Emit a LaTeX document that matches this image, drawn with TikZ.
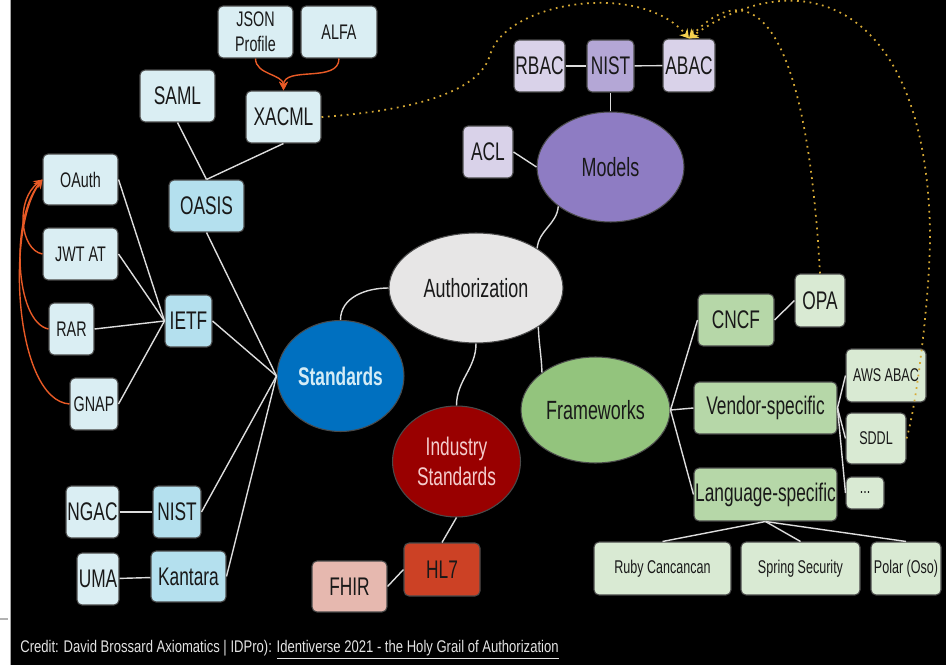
\documentclass[tikz,border=0pt]{standalone}
\usepackage{fontspec}
\setmainfont[FakeStretch=0.68]{Liberation Sans}
\newfontfamily\creditfont[FakeStretch=0.775]{Liberation Sans}
\usetikzlibrary{shapes.geometric,arrows.meta}

\definecolor{paleblue}{HTML}{DAEEF3}
\definecolor{midblue}{HTML}{B4E0EE}
\definecolor{stdblue}{HTML}{0070C0}
\definecolor{stdtext}{HTML}{D4ECF6}
\definecolor{authgrey}{HTML}{E7E6E6}
\definecolor{modpurple}{HTML}{8E7CC3}
\definecolor{midpurple}{HTML}{B4A7D6}
\definecolor{palepurple}{HTML}{D9D2E9}
\definecolor{indred}{HTML}{990000}
\definecolor{indtext}{HTML}{F4CCCC}
\definecolor{hlred}{HTML}{CC4125}
\definecolor{fhirpink}{HTML}{E6B8AF}
\definecolor{fwgreen}{HTML}{93C47D}
\definecolor{midgreen}{HTML}{B6D7A8}
\definecolor{palegreen}{HTML}{D9EAD3}
\definecolor{boxedge}{HTML}{4A4A4A}
\definecolor{wire}{HTML}{DCDCDC}
\definecolor{linkorange}{HTML}{E85A26}
\definecolor{dotgold}{HTML}{D6A935}
\definecolor{tipgold}{HTML}{F5D04E}
\definecolor{creditgrey}{HTML}{E4E4E4}

\tikzset{
  bigtxt/.style={font=\fontsize{14.5}{17}\selectfont},
  midtxt/.style={font=\fontsize{12}{14}\selectfont},
  smalltxt/.style={font=\fontsize{10.5}{12}\selectfont},
  pbox/.style={draw=boxedge, line width=0.6pt, rounded corners=0.1cm, minimum height=1.04cm, inner sep=0.5pt, text=black!90, bigtxt},
  blob/.style={draw=boxedge, line width=0.6pt, ellipse, inner sep=0pt, text=black!90, bigtxt},
  wireline/.style={draw=wire, line width=0.8pt},
  orangelink/.style={draw=linkorange, line width=0.8pt, -{Stealth[length=5pt,width=5pt]}},
  dotlink/.style={draw=dotgold, line width=1pt, dash pattern=on 1pt off 2.6pt, -{Stealth[length=5pt,width=6pt,fill=tipgold,color=tipgold]}}
}

\begin{document}
\begin{tikzpicture}[x=0.02cm,y=-0.02cm]
  % frame
  \useasboundingbox (0,0) rectangle (946,665);
  \fill[black] (10,0) rectangle (946,665);
  \fill[white] (0,0) rectangle (10,665);
  \draw[gray!70] (10,0) -- (10,665);
  \draw[gray!60, line width=1pt] (0,619) -- (8,619);

  % centre and the four branches
  \node[blob, fill=authgrey, minimum width=3.48cm, minimum height=2.2cm, font=\fontsize{15}{17}\selectfont] (auth) at (476,288) {Authorization};
  \node[blob, fill=stdblue, minimum width=2.54cm, minimum height=2.22cm, text=stdtext, font=\fontsize{14.5}{17}\selectfont\bfseries] (std) at (340.5,376) {Standards};
  \node[blob, fill=indred, minimum width=2.56cm, minimum height=2.22cm, text=indtext, align=center, font=\fontsize{14.5}{17.5}\selectfont] (ind) at (456.5,461.5) {Industry\\Standards};
  \node[blob, fill=fwgreen, minimum width=2.98cm, minimum height=2.12cm, font=\fontsize{15}{17}\selectfont] (fw) at (595.5,410) {Frameworks};
  \node[blob, fill=modpurple, minimum width=2.94cm, minimum height=2.2cm, font=\fontsize{15}{17}\selectfont] (models) at (610.5,167) {Models};

  % standards side
  \node[pbox, fill=paleblue, minimum width=1.5cm, align=center, midtxt, font=\fontsize{12}{14}\selectfont] (json) at (255.5,32) {JSON\\Profile};
  \node[pbox, fill=paleblue, minimum width=1.52cm, midtxt] (alfa) at (339,32) {ALFA};
  \node[pbox, fill=paleblue, minimum width=1.5cm] (saml) at (177.5,96) {SAML};
  \node[pbox, fill=paleblue, minimum width=1.5cm] (xacml) at (283.5,117) {XACML};
  \node[pbox, fill=midblue, minimum width=1.5cm] (oasis) at (206.5,206) {OASIS};
  \node[pbox, fill=paleblue, minimum width=1.5cm, minimum height=1.02cm, midtxt] (oauth) at (80.5,179.5) {OAuth};
  \node[pbox, fill=paleblue, minimum width=1.5cm, midtxt] (jwt) at (80.5,254) {JWT AT};
  \node[pbox, fill=midblue, minimum width=0.94cm] (ietf) at (188.5,321) {IETF};
  \node[pbox, fill=paleblue, minimum width=0.9cm, midtxt] (rar) at (71.5,329) {RAR};
  \node[pbox, fill=paleblue, minimum width=0.96cm, midtxt] (gnap) at (94,404) {GNAP};
  \node[pbox, fill=paleblue, minimum width=1.06cm] (ngac) at (92.5,512) {NGAC};
  \node[pbox, fill=midblue, minimum width=0.96cm] (nistb) at (177,512) {NIST};
  \node[pbox, fill=paleblue, minimum width=0.84cm] (uma) at (98,579) {UMA};
  \node[pbox, fill=midblue, minimum width=1.5cm, minimum height=1.02cm] (kantara) at (188.5,576.5) {Kantara};

  % industry side
  \node[pbox, fill=hlred, minimum width=1.52cm, minimum height=1.06cm] (hl7) at (442,569.5) {HL7};
  \node[pbox, fill=fhirpink, minimum width=1.5cm, minimum height=1.02cm] (fhir) at (349.5,586.5) {FHIR};

  % models side
  \node[pbox, fill=palepurple, minimum width=1.02cm] (rbac) at (539.5,66) {RBAC};
  \node[pbox, fill=midpurple, minimum width=0.94cm] (nistt) at (610.5,66) {NIST};
  \node[pbox, fill=palepurple, minimum width=1.04cm, minimum height=1.06cm] (abac) at (689,65.5) {ABAC};
  \node[pbox, fill=palepurple, minimum width=1.0cm] (acl) at (488,152) {ACL};

  % frameworks side
  \node[pbox, fill=midgreen, minimum width=1.52cm] (cncf) at (736,320) {CNCF};
  \node[pbox, fill=palegreen, minimum width=1.0cm, minimum height=1.06cm] (opa) at (820,300.5) {OPA};
  \node[pbox, fill=midgreen, minimum width=2.86cm] (vendor) at (765.5,408) {Vendor-specific};
  \node[pbox, fill=midgreen, minimum width=2.86cm, minimum height=1.06cm] (lang) at (765.5,494.5) {Language-specific};
  \node[pbox, fill=palegreen, minimum width=1.6cm, minimum height=1.06cm, smalltxt] (aws) at (886,375.5) {AWS ABAC};
  \node[pbox, fill=palegreen, minimum width=1.2cm, minimum height=1.02cm, smalltxt] (sddl) at (876,438.5) {SDDL};
  \node[pbox, fill=palegreen, minimum width=0.76cm, minimum height=0.64cm, smalltxt] (more) at (865,493) {...};
  \node[pbox, fill=palegreen, minimum width=2.74cm, minimum height=1.06cm, smalltxt] (ruby) at (662.5,568.5) {Ruby Cancancan};
  \node[pbox, fill=palegreen, minimum width=2.38cm, minimum height=1.06cm, smalltxt] (spring) at (800.5,568.5) {Spring Security};
  \node[pbox, fill=palegreen, minimum width=1.4cm, minimum height=1.06cm, smalltxt] (polar) at (906,568.5) {Polar (Oso)};

  % credit line
  \node[anchor=base west, inner sep=0pt, text=creditgrey, font=\fontsize{9.6}{11}\creditfont] (credit) at (20,652) {Credit: David Brossard Axiomatics | IDPro): \underline{Identiverse 2021 - the Holy Grail of Authorization}};

  % branches from the centre
  \draw[wireline] (std.north) to[out=90,in=180] (auth.west);
  \draw[wireline] (auth.south) to[out=-90,in=90] (ind.north);
  \draw[wireline] (auth.-32) to[out=-88,in=92] (fw.145);
  \draw[wireline] (models.-143) to[out=-95,in=85] (auth.33);

  % standards
  \draw[wireline] (saml.south) -- (oasis.north);
  \draw[wireline] (xacml.south) -- (oasis.north);
  \draw[wireline] (oasis.south) -- (std.west);
  \draw[wireline] (oauth.east) -- (ietf.west);
  \draw[wireline] (jwt.east) -- (ietf.west);
  \draw[wireline] (rar.east) -- (ietf.west);
  \draw[wireline] (gnap.east) -- (ietf.west);
  \draw[wireline] (ietf.east) -- (std.west);
  \draw[wireline] (nistb.east) -- (std.west);
  \draw[wireline] (kantara.east) -- (std.west);
  \draw[wireline] (ngac) -- (nistb);
  \draw[wireline] (uma) -- (kantara);

  % industry
  \draw[wireline] (ind.south) -- (hl7.north);
  \draw[wireline] (hl7.west) -- (fhir.east);

  % models
  \draw[wireline] (models.north) -- (nistt.south);
  \draw[wireline] (rbac) -- (nistt);
  \draw[wireline] (nistt) -- (abac);
  \draw[wireline] (acl.east) -- (models.west);

  % frameworks
  \draw[wireline] (fw.east) -- (cncf.west);
  \draw[wireline] (fw.east) -- (vendor.west);
  \draw[wireline] (fw.east) -- (lang.west);
  \draw[wireline] (cncf.east) -- (opa.west);
  \draw[wireline] (vendor.east) -- (aws.west);
  \draw[wireline] (vendor.east) -- (sddl.west);
  \draw[wireline] (vendor.east) -- (more.west);
  \draw[wireline] (lang.south) -- (ruby.north);
  \draw[wireline] (lang.south) -- (spring.north);
  \draw[wireline] (lang.south) -- (polar.north);

  % profiles and extensions
  \draw[orangelink] (json.south) to[out=-90,in=90] (xacml.north);
  \draw[orangelink] (alfa.south) to[out=-90,in=90] (xacml.north);
  \draw[orangelink] (jwt.west) .. controls (20,250) and (15,200) .. (oauth.west);
  \draw[orangelink] (rar.west) .. controls (15,322) and (10,220) .. (oauth.west);
  \draw[orangelink] (gnap.west) .. controls (15,400) and (5,230) .. (oauth.west);

  % ABAC implementations
  \draw[dotlink] (xacml.east) .. controls (420,110) and (480,90) .. (490,55) .. controls (505,2) and (640,-20) .. (abac.north);
  \draw[dotlink] (opa.north) .. controls (805,0) and (745,-20) .. (abac.north);
  \draw[dotlink] (sddl.east) .. controls (918,400) and (931,280) .. (930,230) .. controls (925,0) and (800,-40) .. (abac.north);
\end{tikzpicture}
\end{document}
